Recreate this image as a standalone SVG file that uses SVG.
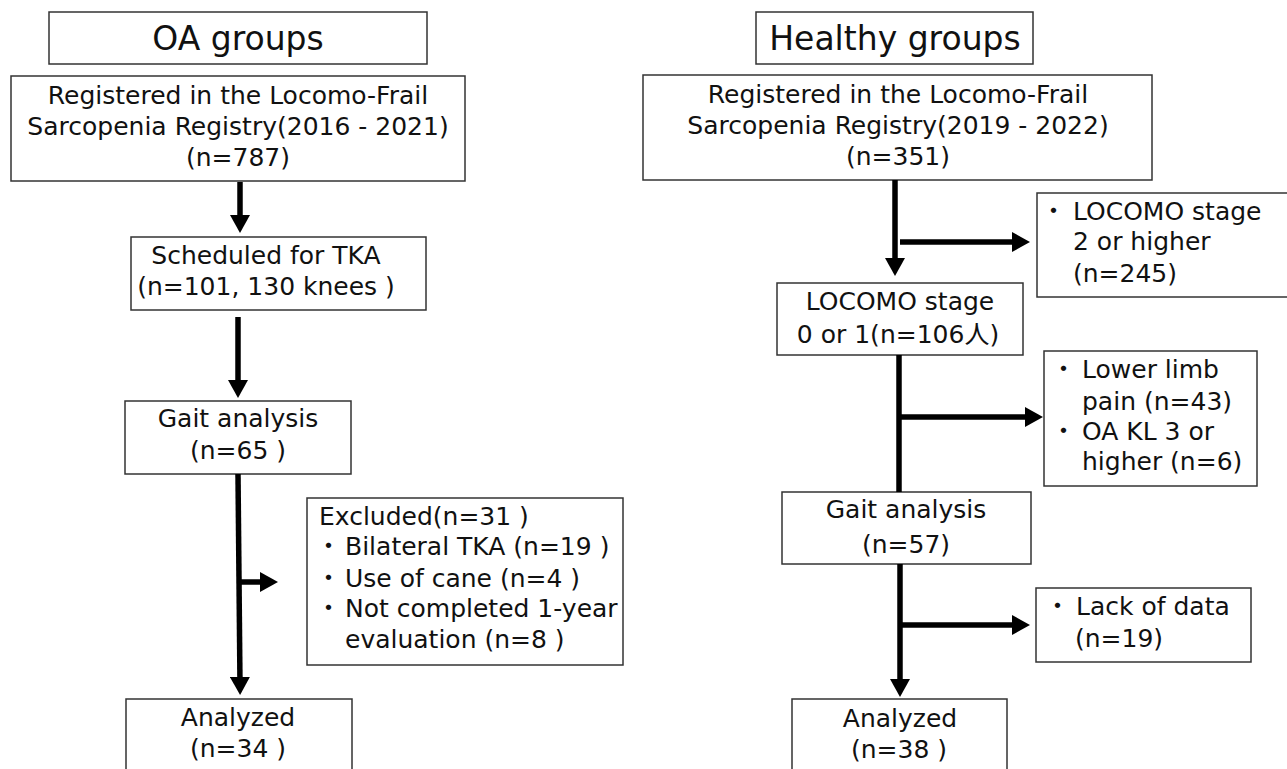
<svg xmlns="http://www.w3.org/2000/svg" width="1287" height="769" viewBox="0 0 1287 769">
<style>
.box{fill:#fff;stroke:#333;stroke-width:1.5}
text{font-family:"DejaVu Sans","Noto Sans CJK JP",sans-serif;font-size:25px;fill:#111}
.c{text-anchor:middle}
.t{font-size:33px}
.ln{stroke:#000;stroke-width:5.5;fill:none}
</style>
<defs>
<marker id="ah" viewBox="0 0 18 20" markerWidth="18" markerHeight="20" refX="8" refY="10" orient="auto" markerUnits="userSpaceOnUse">
<path d="M0,0 L18,10 L0,20 z" fill="#000"/>
</marker>
</defs>
<rect width="1287" height="769" fill="#fff"/>

<g id="oa-title"><rect class="box" x="49" y="12" width="378" height="52"/><text class="c t" x="238" y="50">OA groups</text></g>
<g id="oa-registered"><rect class="box" x="11" y="76" width="454" height="105"/>
<text class="c" x="238" y="104">Registered in the Locomo-Frail</text>
<text class="c" x="238" y="135">Sarcopenia Registry(2016 - 2021)</text>
<text class="c" x="238" y="166">(n=787)</text></g>
<g id="oa-scheduled"><rect class="box" x="131" y="237" width="295" height="73"/>
<text class="c" x="266" y="264">Scheduled for TKA</text>
<text class="c" x="266" y="295">(n=101, 130 knees )</text></g>
<g id="oa-gait"><rect class="box" x="125" y="401" width="226" height="73"/>
<text class="c" x="238" y="427">Gait analysis</text>
<text class="c" x="238" y="459">(n=65 )</text></g>
<g id="oa-excluded"><rect class="box" x="307" y="498" width="316" height="167"/>
<text x="319" y="525">Excluded(n=31 )</text>
<text x="316" y="555">・<tspan dx="4">Bilateral TKA (n=19 )</tspan></text>
<text x="316" y="587">・<tspan dx="4">Use of cane (n=4 )</tspan></text>
<text x="316" y="617">・<tspan dx="4">Not completed 1-year</tspan></text>
<text x="345" y="648">evaluation (n=8 )</text></g>
<g id="oa-analyzed"><rect class="box" x="126" y="699" width="226" height="90"/>
<text class="c" x="238" y="726">Analyzed</text>
<text class="c" x="238" y="757">(n=34 )</text></g>

<g id="h-title"><rect class="box" x="756" y="12" width="277" height="52"/><text class="c t" x="895" y="50">Healthy groups</text></g>
<g id="h-registered"><rect class="box" x="643" y="75" width="509" height="105"/>
<text class="c" x="898" y="103">Registered in the Locomo-Frail</text>
<text class="c" x="898" y="134">Sarcopenia Registry(2019 - 2022)</text>
<text class="c" x="898" y="165">(n=351)</text></g>
<g id="h-excl1"><rect class="box" x="1037" y="193" width="260" height="104"/>
<text x="1041" y="220">・<tspan dx="7">LOCOMO stage</tspan></text>
<text x="1073" y="250">2 or higher</text>
<text x="1073" y="282">(n=245)</text></g>
<g id="h-locomo"><rect class="box" x="777" y="283" width="246" height="72"/>
<text class="c" x="900" y="310">LOCOMO stage</text>
<text class="c" x="898" y="343">0 or 1(n=106人)</text></g>
<g id="h-excl2"><rect class="box" x="1044" y="351" width="213" height="135"/>
<text x="1051" y="378">・<tspan dx="6">Lower limb</tspan></text>
<text x="1082" y="410">pain (n=43)</text>
<text x="1051" y="440">・<tspan dx="6">OA KL 3 or</tspan></text>
<text x="1082" y="470">higher (n=6)</text></g>
<g id="h-gait"><rect class="box" x="782" y="492" width="249" height="72"/>
<text class="c" x="906" y="518">Gait analysis</text>
<text class="c" x="906" y="553">(n=57)</text></g>
<g id="h-excl3"><rect class="box" x="1036" y="588" width="215" height="74"/>
<text x="1045" y="615">・<tspan dx="6">Lack of data</tspan></text>
<text x="1075" y="647">(n=19)</text></g>
<g id="h-analyzed"><rect class="box" x="792" y="699" width="215" height="90"/>
<text class="c" x="900" y="727">Analyzed</text>
<text class="c" x="899" y="758">(n=38 )</text></g>

<g id="connectors">
<line class="ln" x1="240" y1="182" x2="240" y2="223" marker-end="url(#ah)"/>
<line class="ln" x1="238" y1="317" x2="238" y2="388" marker-end="url(#ah)"/>
<line class="ln" x1="238" y1="474" x2="240" y2="685" marker-end="url(#ah)"/>
<line class="ln" x1="239" y1="582" x2="268" y2="582" marker-end="url(#ah)"/>
<line class="ln" x1="895" y1="180" x2="895" y2="266" marker-end="url(#ah)"/>
<line class="ln" x1="900" y1="242" x2="1020" y2="242" marker-end="url(#ah)"/>
<line class="ln" x1="899" y1="355" x2="899" y2="492"/>
<line class="ln" x1="899" y1="417" x2="1033" y2="417" marker-end="url(#ah)"/>
<line class="ln" x1="900" y1="564" x2="900" y2="687" marker-end="url(#ah)"/>
<line class="ln" x1="900" y1="625" x2="1020" y2="625" marker-end="url(#ah)"/>
</g>
</svg>
